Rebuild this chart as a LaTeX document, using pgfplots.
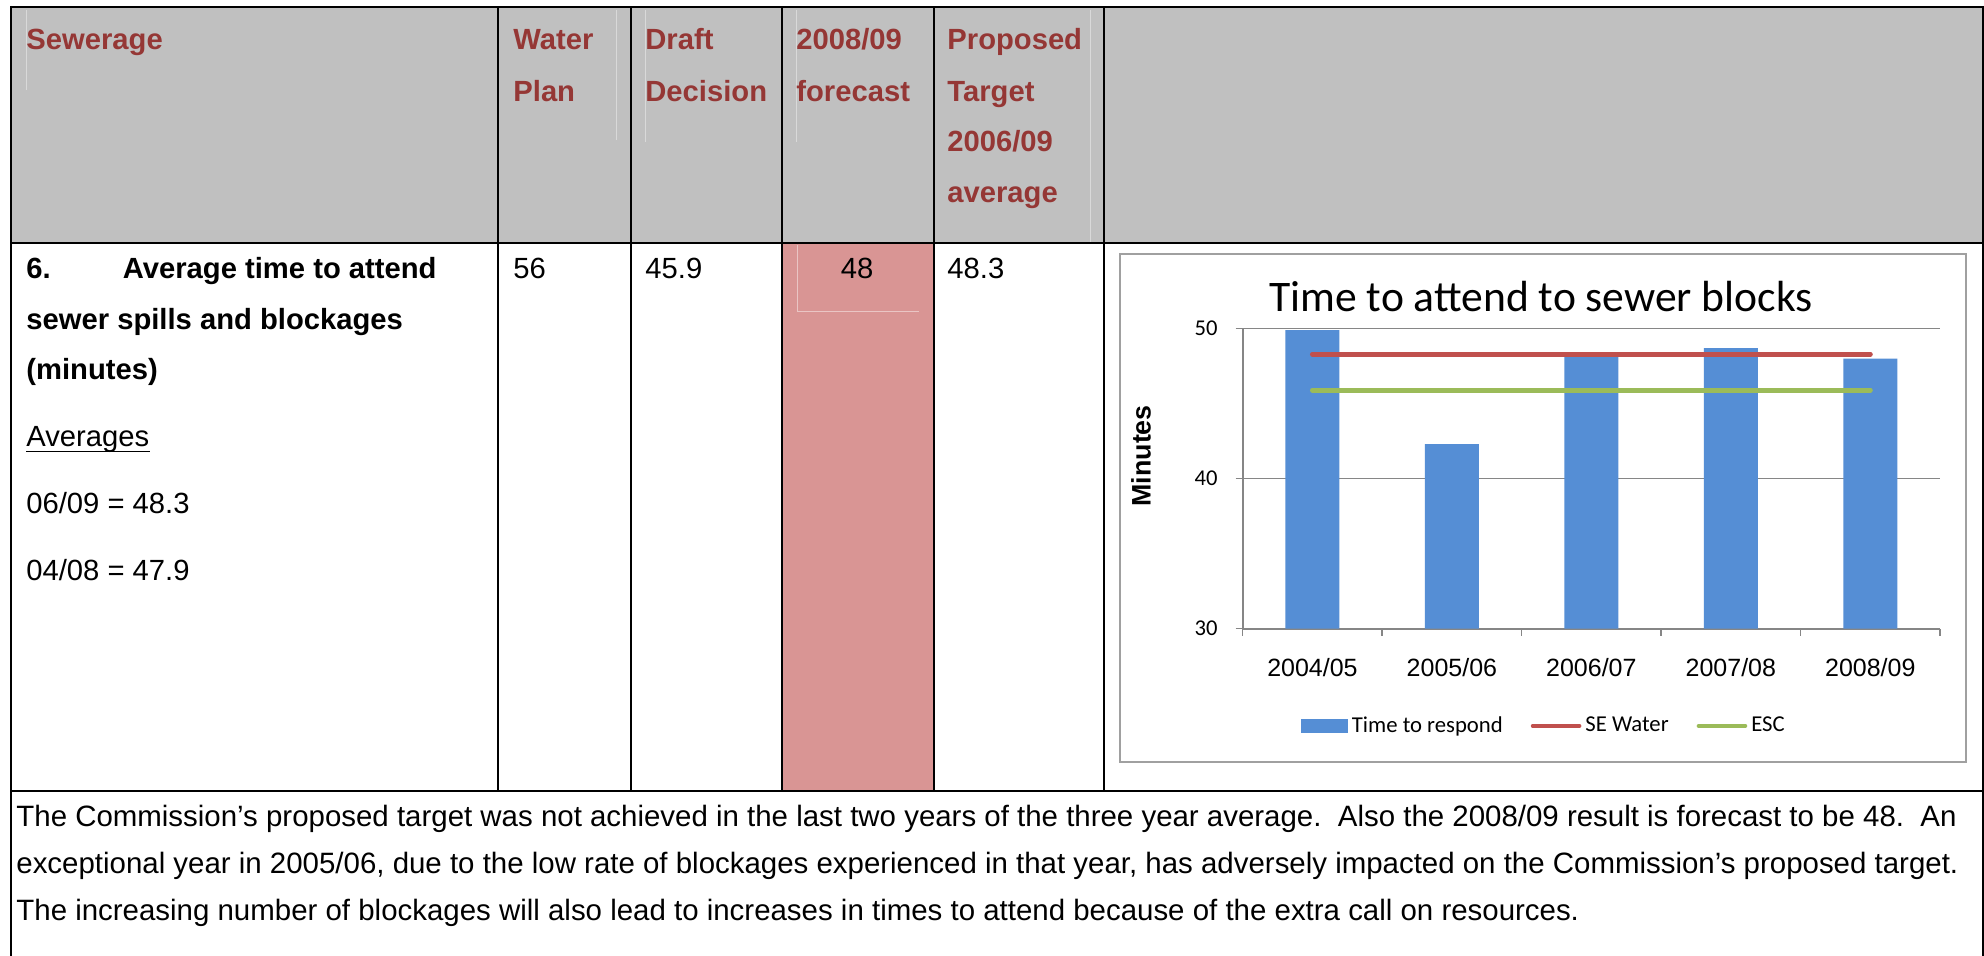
\documentclass[border=0pt]{standalone}
\usepackage{fontspec}
\setmainfont{Liberation Sans}
\newfontfamily\calibri{Carlito}
\usepackage{pgfplots}
\pgfplotsset{compat=1.18}
\definecolor{headgray}{HTML}{C0C0C0}
\definecolor{pinkc}{HTML}{D99594}
\definecolor{headred}{HTML}{953735}
\definecolor{barblue}{HTML}{558ED5}
\definecolor{sered}{HTML}{C0504D}
\definecolor{escgreen}{HTML}{9BBB59}
\definecolor{gridgray}{HTML}{868686}
\definecolor{framegray}{HTML}{A0A0A0}
\tikzset{
  txt/.style={anchor=base west, inner sep=0pt, font=\fontsize{14.6}{16}\selectfont},
  btxt/.style={anchor=base west, inner sep=0pt, font=\bfseries\fontsize{14.6}{16}\selectfont},
  htxt/.style={btxt, text=headred},
  ptxt/.style={anchor=base west, inner sep=0pt, font=\fontsize{14.72}{16}\selectfont},
}
\begin{document}
\begin{tikzpicture}
\useasboundingbox (0,0) rectangle (992pt,-478pt);
\begin{scope}[x=0.5pt,y=-0.5pt]
  % fills
  \fill[headgray] (11,7) rectangle (1983,243);
  \fill[pinkc] (782,243) rectangle (934,791);
  % faint artefact lines
  \draw[headgray!60!white, line width=0.3pt] (26,10) -- (26,90);
  \draw[headgray!60!white, line width=0.3pt] (616,10) -- (616,140);
  \draw[headgray!60!white, line width=0.3pt] (645,10) -- (645,142);
  \draw[headgray!60!white, line width=0.3pt] (796,10) -- (796,142);
  \draw[headgray!60!white, line width=0.3pt] (1090,10) -- (1090,243);
  \draw[pinkc!55!white, line width=0.3pt] (797,245) -- (797,311) -- (919,311);
  % grid lines of table
  \draw[line width=0.8pt] (497.7,7) -- (497.7,791);
  \draw[line width=0.8pt] (630.7,7) -- (630.7,791);
  \draw[line width=0.8pt] (782,7) -- (782,791);
  \draw[line width=0.8pt] (934,7) -- (934,791);
  \draw[line width=0.8pt] (1104,7) -- (1104,791);
  \draw[line width=1pt] (10,7) -- (1984,7);
  \draw[line width=1pt] (11,243) -- (1983,243);
  \draw[line width=1pt] (11,791) -- (1983,791);
  \draw[line width=0.9pt] (11,6) -- (11,956);
  \draw[line width=0.9pt] (1983,6) -- (1983,956);
  % chart frame
  \draw[framegray, line width=0.75pt, fill=white] (1120,254) rectangle (1966,762);
  % header
  \node[htxt] at (26,50) {Sewerage};
  \node[htxt] at (513,50) {Water};
  \node[htxt] at (513,101.5) {Plan};
  \node[htxt] at (645,50) {Draft};
  \node[htxt] at (645,101.5) {Decision};
  \node[htxt] at (796,50) {2008/09};
  \node[htxt] at (796,101.5) {forecast};
  \node[htxt] at (947,50) {Proposed};
  \node[htxt] at (947,101.5) {Target};
  \node[htxt] at (947,152) {2006/09};
  \node[htxt] at (947,203) {average};
  % row 2
  \node[btxt] at (26,279) {6.};
  \node[btxt] at (122.5,279) {Average time to attend};
  \node[btxt] at (26,330) {sewer spills and blockages};
  \node[btxt] at (26,380) {(minutes)};
  \node[txt] (avg) at (26,446) {Averages};
  \draw[line width=0.8pt] ([yshift=-2.85pt]avg.base west) -- ([yshift=-2.85pt]avg.base east);
  \node[txt] at (26,513) {06/09 = 48.3};
  \node[txt] at (26,580) {04/08 = 47.9};
  \node[txt] at (513,279) {56};
  \node[txt] at (645,279) {45.9};
  \node[txt, anchor=base] at (857,279) {48};
  \node[txt] at (947,279) {48.3};
  % paragraph
  \node[ptxt] at (16,826) {The Commission’s proposed target was not achieved in the last two years of the three year average.\ \ Also the 2008/09 result is forecast to be 48.\ \ An};
  \node[ptxt] at (16,873) {exceptional year in 2005/06, due to the low rate of blockages experienced in that year, has adversely impacted on the Commission’s proposed target.};
  \node[ptxt] at (16,920) {The increasing number of blockages will also lead to increases in times to attend because of the extra call on resources.};
\end{scope}
\begin{axis}[
  at={(621.35pt,-314.3pt)}, anchor=south west,
  scale only axis, width=348.65pt, height=150pt,
  xmin=0.5, xmax=5.5, ymin=30, ymax=50,
  ytick={30,40,50},
  xtick={0.5,1.5,2.5,3.5,4.5,5.5},
  xticklabels={2004/05,2005/06,2006/07,2007/08,2008/09},
  x tick label as interval,
  tick align=outside,
  major tick length=3.5pt,
  tick style={gridgray, line width=0.75pt},
  axis x line*=bottom, axis y line*=left,
  axis line style={gridgray, line width=1pt},
  ymajorgrids, grid style={gridgray, line width=0.75pt},
  /pgf/number format/assume math mode=true,
  yticklabel style={font=\calibri\fontsize{11.3}{12}\selectfont, inner sep=0pt, anchor=east},
  yticklabel shift=8.85pt,
  xticklabel style={font=\fontsize{12.5}{13}\selectfont, inner sep=0pt, anchor=north},
  xticklabel shift=11pt,
  every axis title shift=0pt,
  title={Time to attend to sewer blocks},
  title style={font=\calibri\fontsize{21.8}{24}\selectfont, at={(axis description cs:0.4278,1.0567)}, anchor=base, inner sep=0pt},
  ylabel={Minutes},
  ylabel style={font=\bfseries\fontsize{13.4}{14}\selectfont, at={(axis description cs:-0.1458,0.5757)}, anchor=center, inner sep=0pt},
  legend style={at={(axis description cs:0.4335,-0.3243)}, anchor=center, draw=none, fill=none,
    legend columns=3, font=\calibri\fontsize{11.35}{12}\selectfont,
    /tikz/every even column/.append style={column sep=12pt}},
  legend cell align=left,
]
\addplot[ybar, bar width=27pt, bar shift=0pt, fill=barblue, draw=none,
  legend image code/.code={\fill[barblue] (0pt,-3.4pt) rectangle (23.3pt,3.4pt);}]
  coordinates {(1,49.9) (2,42.3) (3,48.2) (4,48.7) (5,48.0)};
\addlegendentry{Time to respond}
\addplot[sered, line width=2.5pt, line cap=round, mark=none,
  legend image code/.code={\draw[sered, line width=2pt] (0pt,0pt) -- (23.3pt,0pt);}]
  coordinates {(1,48.3) (5,48.3)};
\addlegendentry{SE Water}
\addplot[escgreen, line width=2.5pt, line cap=round, mark=none,
  legend image code/.code={\draw[escgreen, line width=2pt] (0pt,0pt) -- (23.3pt,0pt);}]
  coordinates {(1,45.9) (5,45.9)};
\addlegendentry{ESC}
\end{axis}
\end{tikzpicture}
\end{document}
